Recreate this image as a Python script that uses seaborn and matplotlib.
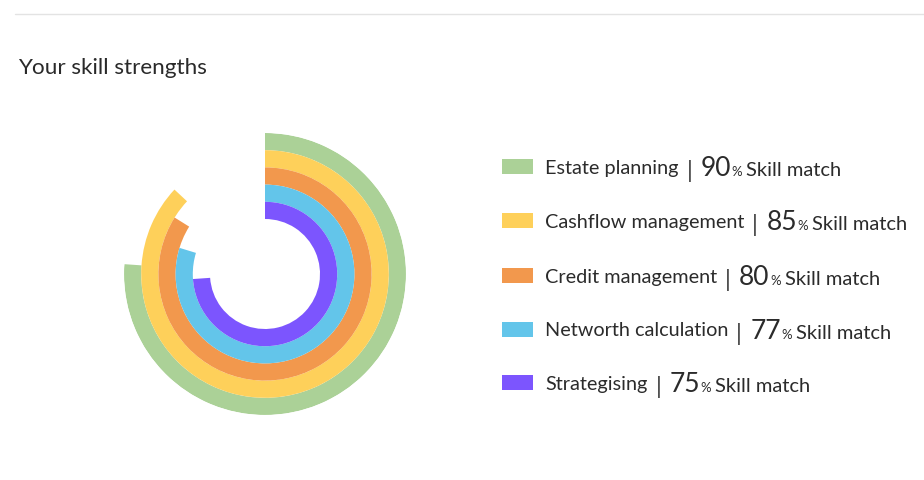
import numpy as np
import matplotlib
matplotlib.use("Agg")
import matplotlib.pyplot as plt
import seaborn as sns
from matplotlib.patches import Rectangle
from matplotlib.lines import Line2D

# data
skills = ["Estate planning", "Cashflow management", "Credit management",
          "Networth calculation", "Strategising"]
skill_match = [90, 85, 80, 77, 75]
# arc length of every ring as drawn in the reference (degrees, clockwise from 12 o'clock)
arc_deg = [274, 313, 302, 287, 266]
colors = ["#abd197", "#fed05a", "#f2984d", "#63c5ea", "#7c55fe"]

sns.set_theme(style="white")
plt.rcParams["font.family"] = ["Lato", "DejaVu Sans"]

W, H = 924, 480
fig = plt.figure(figsize=(W / 100, H / 100), dpi=100)

# polar axes, centre at (265, 274) px, radius 141 px
cx, cy, R = 265, 274, 141
ax = fig.add_axes([(cx - R) / W, (H - cy - R) / H, 2 * R / W, 2 * R / H],
                  projection="polar")
ax.set_theta_zero_location("N")
ax.set_theta_direction(-1)

hole = 55 / 17.2
n = len(skills)
for i in range(n):
    ring = n - 1 - i  # first skill is the outer ring
    span = np.deg2rad(arc_deg[i])
    ax.bar(span / 2, 1.0, width=span, bottom=hole + ring,
           color=colors[i], linewidth=0, align="center")
ax.set_ylim(0, hole + n)
ax.set_axis_off()

# top rule and title
fig.add_artist(Line2D([15 / W, 1], [1 - 14 / H, 1 - 14 / H], color="#e3e3e3", lw=1))
fig.text(18 / W, 1 - 68 / H, "Your skill strengths", fontsize=16.2, color="#2a2a2a",
         va="center", ha="left")

# legend
fig.canvas.draw()
renderer = fig.canvas.get_renderer()
row_y = [166.5, 220.5, 275, 329, 382.5]
txt_c = "#2b2b2b"
for i in range(n):
    y = row_y[i]
    fig.add_artist(Rectangle((502 / W, 1 - (y + 7.5) / H), 31 / W, 15 / H,
                             color=colors[i], transform=fig.transFigure, lw=0))
    base = 1 - (y + 7.5) / H
    t = fig.text(545 / W, base, skills[i], fontsize=14.3, color=txt_c,
                 va="baseline", ha="left")
    x = t.get_window_extent(renderer).x1 + 8
    t = fig.text(x / W, 1 - (y + 5) / H, "|", fontsize=17, color="#3a3a3a",
                 va="center", ha="left")
    x = t.get_window_extent(renderer).x1 + 8
    base2 = 1 - (y + 10) / H
    t = fig.text(x / W, base2, str(skill_match[i]), fontsize=19, color=txt_c,
                 va="baseline", ha="left")
    x = t.get_window_extent(renderer).x1 + 0.5
    t = fig.text(x / W, base2, "%", fontsize=9.5, color=txt_c,
                 va="baseline", ha="left")
    x = t.get_window_extent(renderer).x1 + 4
    fig.text(x / W, base2, "Skill match", fontsize=14.5, color=txt_c,
             va="baseline", ha="left")

fig.savefig("out.png", dpi=100, facecolor="white")
